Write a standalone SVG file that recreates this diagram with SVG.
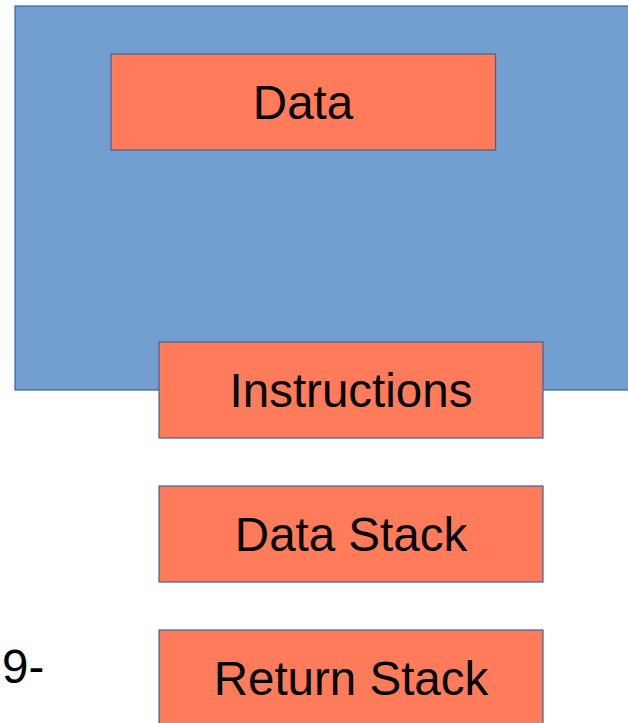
<svg xmlns="http://www.w3.org/2000/svg" width="628" height="723" viewBox="0 0 628 723">
  <style>
    .area { fill: #729fcf; stroke: #3465a4; stroke-width: 1.2; }
    .box { fill: #ff7b59; stroke: #3465a4; stroke-width: 1.2; }
    .label { font-family: "Liberation Sans", Arial, sans-serif; font-size: 47.5px; fill: #000; text-anchor: middle; }
    .note { font-family: "Liberation Sans", Arial, sans-serif; font-size: 47.5px; fill: #000; }
  </style>
  <rect width="628" height="723" fill="#ffffff"/>

  <!-- memory region -->
  <g id="memory">
    <rect class="area" x="15" y="6" width="620" height="384"/>
  </g>

  <g id="data">
    <rect class="box" x="111" y="54" width="384.5" height="96"/>
    <text class="label" x="303" y="119">Data</text>
  </g>

  <g id="instructions">
    <rect class="box" x="159" y="342" width="384" height="96"/>
    <text class="label" x="351" y="407">Instructions</text>
  </g>

  <g id="data-stack">
    <rect class="box" x="159" y="486" width="384" height="96"/>
    <text class="label" x="351" y="551">Data Stack</text>
  </g>

  <g id="return-stack">
    <rect class="box" x="159" y="630" width="384" height="96"/>
    <text class="label" x="351" y="695">Return Stack</text>
  </g>

  <g id="page-number">
    <text class="note" x="2" y="683">9-</text>
  </g>

  <g id="connectors"></g>
</svg>
